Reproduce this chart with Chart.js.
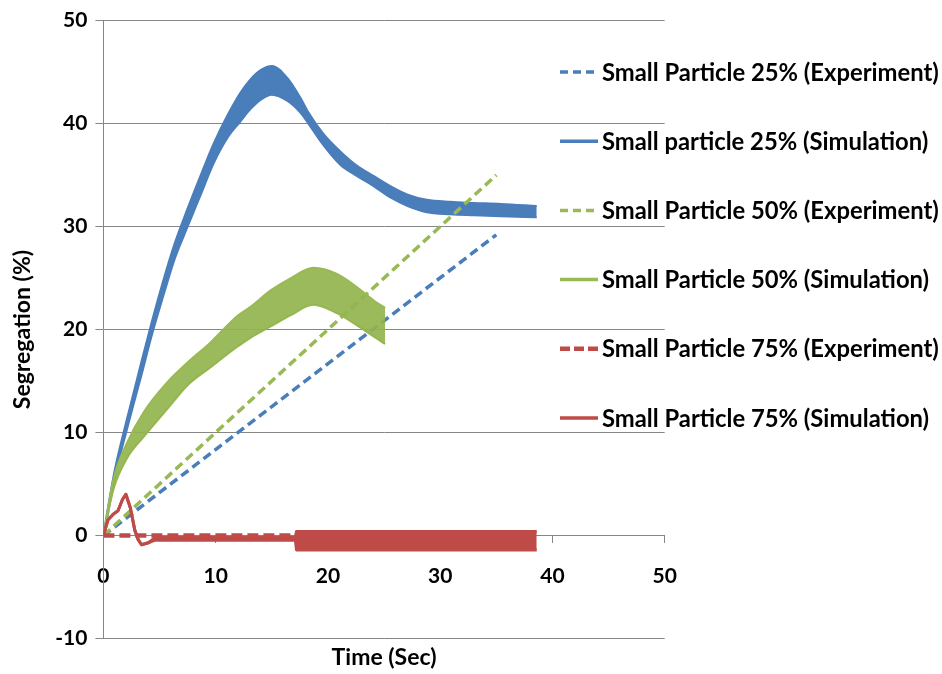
<!DOCTYPE html>
<html>
<head>
<meta charset="utf-8">
<script src="https://cdn.jsdelivr.net/npm/chart.js@4/dist/chart.umd.min.js"></script>
<style>
html,body{margin:0;padding:0;background:#ffffff;}
#wrap{width:942px;height:674px;position:relative;}
</style>
</head>
<body>
<div id="wrap"><canvas id="c" width="942" height="674"></canvas></div>
<script>
// ---------------- data ----------------
const xTickStep = 10;
const yTickStep = 10;
const xRange = [0, 50];
const yRange = [-10, 50];

const seriesLabels = [
  'Small Particle 25% (Experiment)',
  'Small particle 25% (Simulation)',
  'Small Particle 50% (Experiment)',
  'Small Particle 50% (Simulation)',
  'Small Particle 75% (Experiment)',
  'Small Particle 75% (Simulation)'
];

// Experiment series (straight dashed lines)
const expTime = [0, 35];
const exp25 = [0, 29.2];
const exp50 = [0, 35.0];
const exp75 = [0, 0];

// Simulation 25% : upper / lower edge of the oscillating band
const sim25Time  = [0, 0.3, 1.0, 2.0, 2.7, 3.3, 4.3, 5.4, 6.3, 7.2, 8.6, 9.8, 11.1, 12.2, 13.1, 14.0, 15.0, 16.4, 17.6, 18.2, 19.6, 21.1, 22.6, 24.1, 25.6, 27.1, 28.8, 30.9, 33.0, 35.4, 38.6];
const sim25Upper = [0, 2.0, 6.3, 10.9, 13.9, 16.5, 20.7, 25.0, 28.2, 30.9, 34.8, 38.0, 40.9, 43.0, 44.3, 45.2, 45.6, 44.4, 42.4, 41.2, 39.0, 37.3, 35.9, 34.9, 33.9, 33.1, 32.6, 32.4, 32.3, 32.2, 32.0];
const sim25Lower = [0, 1.5, 5.6, 9.9, 12.8, 15.2, 19.4, 23.5, 26.7, 29.2, 32.9, 36.1, 38.7, 40.2, 41.4, 42.3, 42.8, 42.2, 41.0, 40.1, 37.9, 36.0, 34.9, 33.9, 32.8, 32.0, 31.4, 31.2, 31.1, 31.0, 30.9];

// Simulation 50%
const sim50Time  = [0, 0.9, 2.1, 3.6, 5.7, 7.5, 9.5, 11.9, 13.1, 14.9, 16.7, 18.7, 20.8, 22.6, 24.1, 25.1];
const sim50Upper = [0, 5.5, 9.0, 12.0, 14.9, 16.8, 18.7, 21.3, 22.2, 23.8, 25.0, 26.0, 25.4, 24.1, 22.8, 22.1];
const sim50Lower = [0, 4.5, 7.5, 9.6, 12.3, 14.6, 16.3, 18.3, 19.2, 20.3, 21.4, 22.4, 21.6, 20.4, 19.3, 18.6];

// Simulation 75%
const sim75Time  = [0, 0.4, 0.9, 1.3, 1.7, 2.0, 2.4, 2.8, 3.1, 3.4, 4.0, 4.6, 17.1, 17.2, 38.6];
const sim75Upper = [0, 1.5, 2.1, 2.4, 3.5, 4.0, 2.7, 0.5, -0.4, -0.9, -0.7, -0.2, -0.15, 0.4, 0.4];
const sim75Lower = [0, 1.5, 2.1, 2.4, 3.5, 4.0, 2.7, 0.5, -0.4, -0.9, -0.7, -0.45, -0.45, -1.4, -1.4];

// ---------------- styling ----------------
const BLUE = '#4A7EBB', GREEN = '#98B954', RED = '#BE4B48';
const GRID = '#868686';
const FONT = 'Lato';

function pts(xs, ys){ return xs.map((x, i) => ({x: x, y: ys[i]})); }

const smooth = {cubicInterpolationMode: 'monotone'};

const datasets = [
  {label: seriesLabels[0], data: pts(expTime, exp25), borderColor: BLUE, borderWidth: 3.5, borderDash: [9, 5], fill: false, order: 6},
  Object.assign({label: seriesLabels[1], data: pts(sim25Time, sim25Upper), borderColor: BLUE, backgroundColor: BLUE, borderWidth: 2, fill: '+1', order: 5}, smooth),
  Object.assign({label: '', data: pts(sim25Time, sim25Lower), borderColor: BLUE, borderWidth: 2, fill: false, order: 5}, smooth),
  {label: seriesLabels[2], data: pts(expTime, exp50), borderColor: GREEN, borderWidth: 3.5, borderDash: [9, 5], fill: false, order: 4},
  Object.assign({label: seriesLabels[3], data: pts(sim50Time, sim50Upper), borderColor: GREEN, backgroundColor: 'rgba(146,180,78,0.92)', borderWidth: 2, fill: '+1', order: 3}, smooth),
  Object.assign({label: '', data: pts(sim50Time, sim50Lower), borderColor: GREEN, borderWidth: 2, fill: false, order: 3}, smooth),
  {label: seriesLabels[4], data: pts(expTime, exp75), borderColor: RED, borderWidth: 4.5, borderDash: [11, 5], fill: false, order: 2},
  {label: seriesLabels[5], data: pts(sim75Time, sim75Upper), borderColor: RED, backgroundColor: RED, borderWidth: 3, fill: '+1', order: 1},
  {label: '', data: pts(sim75Time, sim75Lower), borderColor: RED, borderWidth: 3, fill: false, order: 1}
];

const legendEntries = [
  {text: seriesLabels[0], color: BLUE, dash: [8, 5], width: 3.5},
  {text: seriesLabels[1], color: BLUE, dash: [], width: 3.5},
  {text: seriesLabels[2], color: GREEN, dash: [8, 5], width: 3.5},
  {text: seriesLabels[3], color: GREEN, dash: [], width: 3.5},
  {text: seriesLabels[4], color: RED, dash: [10, 4], width: 4.5},
  {text: seriesLabels[5], color: RED, dash: [], width: 3.5}
];

const sideLegend = {
  id: 'sideLegend',
  afterDraw(chart){
    const ctx = chart.ctx;
    ctx.save();
    const x0 = 560, x1 = 598, tx = 602, y0 = 72, dy = 69.2;
    legendEntries.forEach((e, i) => {
      const y = y0 + i * dy;
      ctx.beginPath();
      ctx.setLineDash(e.dash);
      ctx.lineWidth = e.width;
      ctx.strokeStyle = e.color;
      ctx.lineCap = 'butt';
      ctx.moveTo(x0, y);
      ctx.lineTo(x1, y);
      ctx.stroke();
      ctx.setLineDash([]);
      ctx.fillStyle = '#000';
      ctx.font = 'bold 23.8px ' + FONT;
      ctx.textAlign = 'left';
      ctx.textBaseline = 'middle';
      ctx.fillText(e.text, tx, y + 1);
    });
    ctx.restore();
  }
};

const tickFont = {family: FONT, size: 21, weight: 'bold'};
const titleFont = {family: FONT, size: 23, weight: 'bold'};

new Chart(document.getElementById('c'), {
  type: 'line',
  data: {datasets: datasets},
  options: {
    responsive: false,
    animation: false,
    devicePixelRatio: 1,
    events: [],
    elements: {point: {radius: 0}, line: {tension: 0, borderCapStyle: 'butt', borderJoinStyle: 'round'}},
    layout: {padding: {left: 0, top: 16.5, right: 277.3, bottom: 0}},
    plugins: {legend: {display: false}, tooltip: {enabled: false}},
    scales: {
      x: {
        type: 'linear', min: xRange[0], max: xRange[1], position: 'bottom',
        ticks: {display: false},
        grid: {display: false, drawTicks: false},
        border: {display: false},
        title: {display: true, text: 'Time (Sec)', color: '#000', font: titleFont, padding: {top: 0, bottom: 3}},
        afterFit(s){ s.height = 35.5; }
      },
      x2: {
        type: 'linear', axis: 'x', min: xRange[0], max: xRange[1], position: {y: 0},
        ticks: {stepSize: xTickStep, color: '#000', font: tickFont, padding: 21},
        grid: {drawOnChartArea: false, drawTicks: true, tickLength: 7, color: GRID},
        border: {display: true, color: GRID, width: 1}
      },
      y: {
        type: 'linear', min: yRange[0], max: yRange[1], position: 'left',
        ticks: {stepSize: yTickStep, color: '#000', font: tickFont, padding: 8},
        grid: {color: GRID, lineWidth: 1, tickLength: 8, drawTicks: true},
        border: {display: true, color: GRID, width: 1},
        title: {display: true, text: 'Segregation (%)', color: '#000', font: titleFont, padding: {top: 9, bottom: 0}},
        afterFit(s){ s.width = 103.4; }
      }
    }
  },
  plugins: [sideLegend]
});
</script>
</body>
</html>
